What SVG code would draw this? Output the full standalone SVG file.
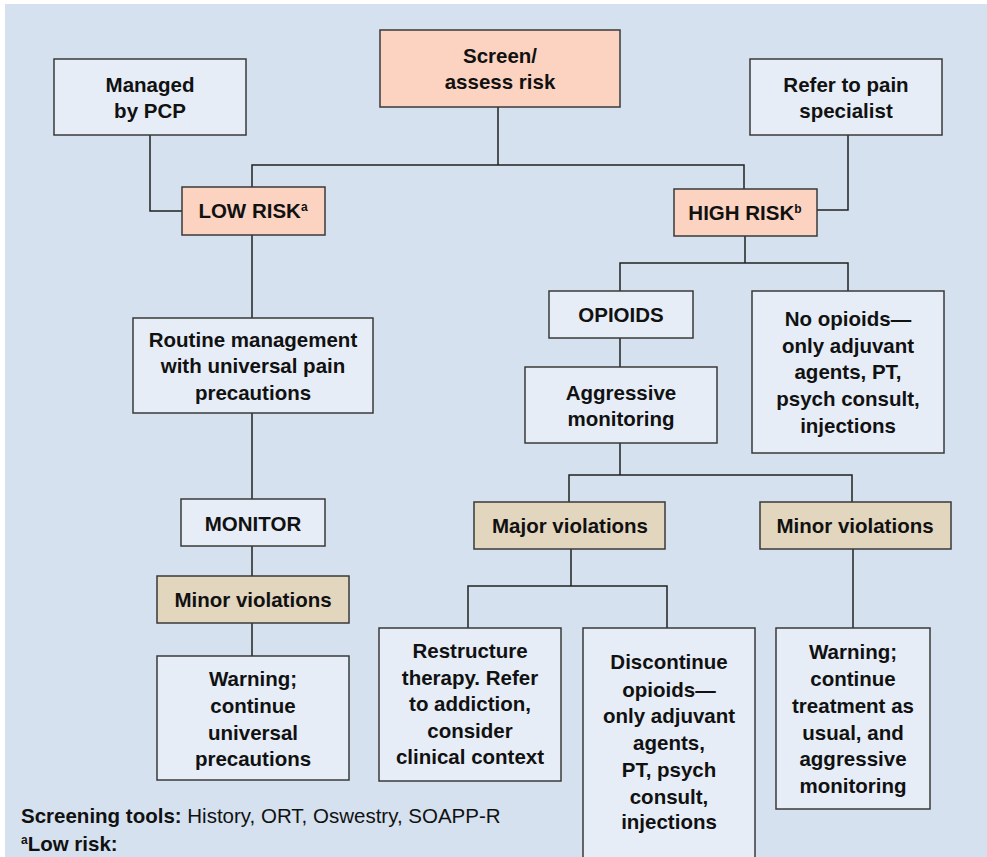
<svg xmlns="http://www.w3.org/2000/svg" width="987" height="857" viewBox="0 0 987 857">
<style>
.bg{fill:#d5e1ef}
.box{stroke:#3a3a3a;stroke-width:1.5}
.light{fill:#e6edf7}
.peach{fill:#fcd3c1}
.tan{fill:#e2d6be}
.t{font-family:"Liberation Sans",Arial,Helvetica,sans-serif;font-weight:bold;font-size:20.5px;fill:#111;text-anchor:middle}
.f{font-family:"Liberation Sans",Arial,Helvetica,sans-serif;font-size:20.5px;fill:#111}
.sup{font-size:12px}
#connectors path{fill:none;stroke:#222;stroke-width:1.5}
</style>
<rect class="bg" x="5" y="4" width="982" height="853"/>
<g id="connectors">
<path d="M498 107V165M252 187V165H744V189"/>
<path d="M150 135V211H182"/>
<path d="M848 135V210H817"/>
<path d="M252 235V318"/>
<path d="M252 413V499"/>
<path d="M252 546V576"/>
<path d="M252 623V656"/>
<path d="M745 236V263M620 291V263H848V291"/>
<path d="M620 338V367"/>
<path d="M620 443V475M569 502V475H852V502"/>
<path d="M571 549V586M468 628V586H667V628"/>
<path d="M853 549V628"/>
</g>
<g id="screen"><rect class="box peach" x="380" y="30" width="240" height="77"/><text class="t" x="500" y="63">Screen/</text><text class="t" x="500" y="89">assess risk</text></g>
<g id="pcp"><rect class="box light" x="54" y="59" width="192" height="76"/><text class="t" x="150" y="92">Managed</text><text class="t" x="150" y="118">by PCP</text></g>
<g id="refer"><rect class="box light" x="750" y="59" width="192" height="76"/><text class="t" x="846" y="92">Refer to pain</text><text class="t" x="846" y="118">specialist</text></g>
<g id="lowrisk"><rect class="box peach" x="182" y="187" width="143" height="48"/><text class="t" x="253" y="218">LOW RISK<tspan class="sup" dy="-7">a</tspan></text></g>
<g id="highrisk"><rect class="box peach" x="674" y="189" width="143" height="47"/><text class="t" x="745" y="220">HIGH RISK<tspan class="sup" dy="-7">b</tspan></text></g>
<g id="routine"><rect class="box light" x="133" y="318" width="240" height="95"/><text class="t" x="253" y="347">Routine management</text><text class="t" x="253" y="373">with universal pain</text><text class="t" x="253" y="400">precautions</text></g>
<g id="monitor"><rect class="box light" x="181" y="499" width="144" height="47"/><text class="t" x="253" y="531">MONITOR</text></g>
<g id="minorleft"><rect class="box tan" x="157" y="576" width="192" height="47"/><text class="t" x="253" y="607">Minor violations</text></g>
<g id="warnleft"><rect class="box light" x="157" y="656" width="192" height="124"/><text class="t" x="253" y="686">Warning;</text><text class="t" x="253" y="713">continue</text><text class="t" x="253" y="740">universal</text><text class="t" x="253" y="766">precautions</text></g>
<g id="opioids"><rect class="box light" x="549" y="291" width="144" height="47"/><text class="t" x="621" y="322">OPIOIDS</text></g>
<g id="noopioids"><rect class="box light" x="752" y="291" width="192" height="162"/><text class="t" x="848" y="326">No opioids—</text><text class="t" x="848" y="353">only adjuvant</text><text class="t" x="848" y="379">agents, PT,</text><text class="t" x="848" y="406">psych consult,</text><text class="t" x="848" y="433">injections</text></g>
<g id="aggressive"><rect class="box light" x="525" y="367" width="192" height="76"/><text class="t" x="621" y="400">Aggressive</text><text class="t" x="621" y="426">monitoring</text></g>
<g id="major"><rect class="box tan" x="474" y="502" width="191" height="47"/><text class="t" x="570" y="533">Major violations</text></g>
<g id="minorright"><rect class="box tan" x="760" y="502" width="191" height="47"/><text class="t" x="855" y="533">Minor violations</text></g>
<g id="restructure"><rect class="box light" x="379" y="628" width="182" height="153"/><text class="t" x="470" y="658">Restructure</text><text class="t" x="470" y="685">therapy. Refer</text><text class="t" x="470" y="711">to addiction,</text><text class="t" x="470" y="738">consider</text><text class="t" x="470" y="764">clinical context</text></g>
<g id="discontinue"><rect class="box light" x="583" y="628" width="172" height="250"/><text class="t" x="669" y="669">Discontinue</text><text class="t" x="669" y="697">opioids—</text><text class="t" x="669" y="723">only adjuvant</text><text class="t" x="669" y="750">agents,</text><text class="t" x="669" y="777">PT, psych</text><text class="t" x="669" y="804">consult,</text><text class="t" x="669" y="829">injections</text></g>
<g id="warnright"><rect class="box light" x="776" y="628" width="154" height="181"/><text class="t" x="853" y="659">Warning;</text><text class="t" x="853" y="686">continue</text><text class="t" x="853" y="713">treatment as</text><text class="t" x="853" y="740">usual, and</text><text class="t" x="853" y="766">aggressive</text><text class="t" x="853" y="793">monitoring</text></g>
<g id="footer"><text class="f" x="21" y="823"><tspan font-weight="bold">Screening tools:</tspan> History, ORT, Oswestry, SOAPP-R</text><text class="f" x="21" y="851" font-weight="bold"><tspan class="sup" dy="-7">a</tspan><tspan dy="7">Low risk:</tspan></text></g>
</svg>
